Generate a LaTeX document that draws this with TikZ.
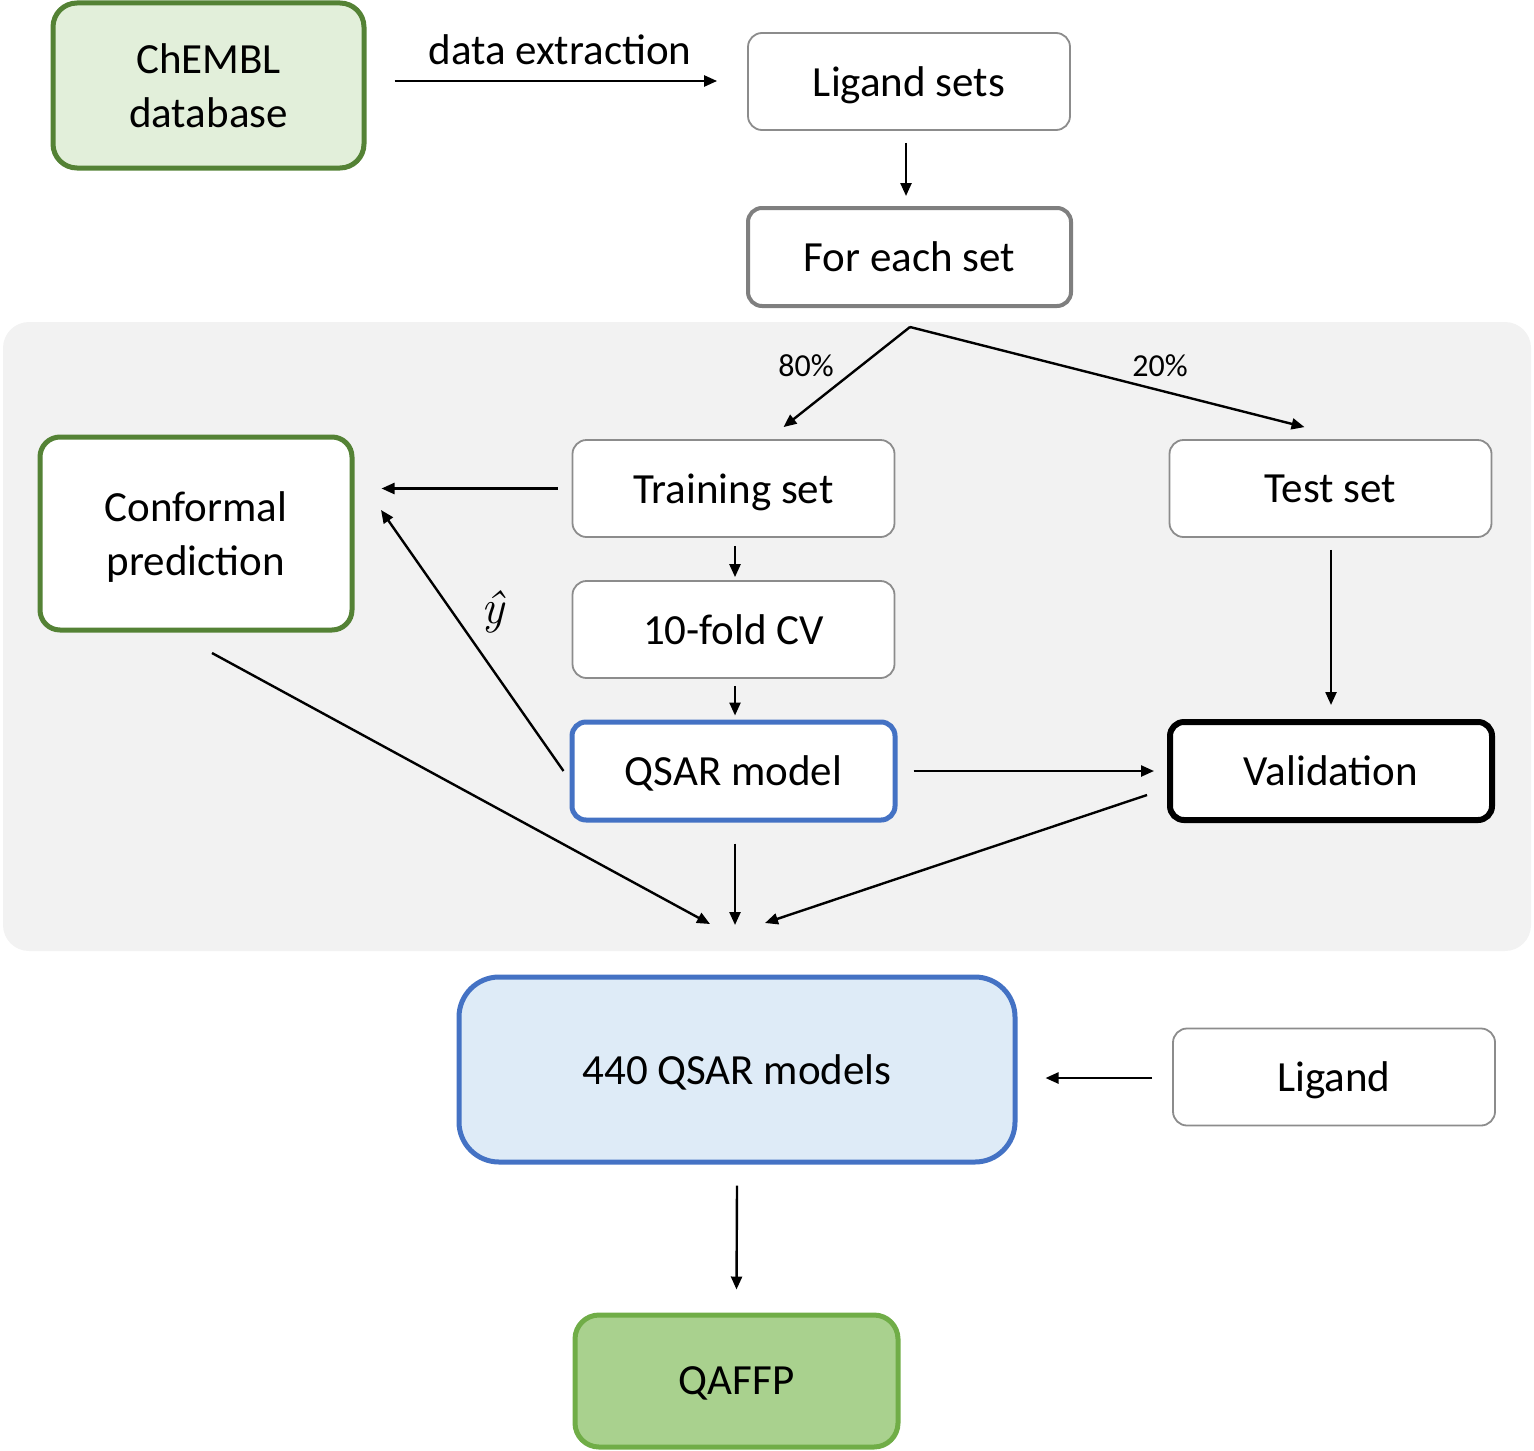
\documentclass[tikz,border=0pt]{standalone}
\usepackage{fontspec}
\setmainfont{Carlito}
\newfontfamily\lmfont{Latin Modern Roman}
\usetikzlibrary{arrows.meta}
\definecolor{dgreen}{HTML}{548235}
\definecolor{lgreen}{HTML}{E2EFDA}
\definecolor{mgreen}{HTML}{70AD47}
\definecolor{qgreen}{HTML}{A9D18E}
\definecolor{mblue}{HTML}{4472C4}
\definecolor{lblue}{HTML}{DEEBF7}
\definecolor{bggray}{HTML}{F2F2F2}
\definecolor{thingray}{HTML}{8C8C8C}
\definecolor{darkgray}{HTML}{7F7F7F}
\begin{document}
\begin{tikzpicture}[x=0.5pt,y=-0.5pt,
  base/.style={rectangle,rounded corners=7pt,align=center,inner sep=0pt,text depth=0pt,
    font=\fontsize{21.5}{27}\selectfont},
  thinbox/.style={base,draw=thingray,line width=0.9pt,fill=white,minimum width=161pt,minimum height=48.5pt},
  arr/.style={line width=1.2pt,-{Triangle[length=6.5pt,width=5.5pt]}},
  lbl/.style={inner sep=0pt,font=\fontsize{21.5}{27}\selectfont},
  pct/.style={font=\fontsize{16}{20}\selectfont,inner sep=0pt}]
\useasboundingbox (0,0) rectangle (1534,1450);
% background panel
\fill[bggray,rounded corners=13pt] (3,322) rectangle (1531,951);

\node[base,draw=dgreen,fill=lgreen,line width=2.5pt,rounded corners=12pt,
  minimum width=155.5pt,minimum height=82.5pt] (chembl) at (208.5,85.5) {ChEMBL\\database};
\node[thinbox] (ligsets) at (909,81.5) {Ligand sets};
\node[base,draw=darkgray,fill=white,line width=2pt,minimum width=161.5pt,minimum height=49pt] (foreach) at (909.5,257) {For each set};
\node[thinbox] (train) at (733.5,488.5) {Training set};
\node[thinbox] (test) at (1330.5,488.5) {Test set};
\node[base,draw=dgreen,fill=white,line width=2.5pt,rounded corners=10pt,
  minimum width=156pt,minimum height=96.5pt] (conf) at (196,533.5) {Conformal\\prediction};
\node[thinbox] (cv) at (733.5,629.5) {10-fold CV};
\node[base,draw=mblue,fill=white,line width=2.5pt,minimum width=161.5pt,minimum height=49pt] (qsar) at (733.5,771) {QSAR model};
\node[base,draw=black,fill=white,line width=3pt,minimum width=161pt,minimum height=49pt] (valid) at (1331,771) {Validation};
\node[base,draw=mblue,fill=lblue,line width=2.5pt,rounded corners=20pt,
  minimum width=278pt,minimum height=92.5pt] (models) at (737,1069.5) {440 QSAR models};
\node[thinbox] (ligand) at (1334,1077) {Ligand};
\node[base,draw=mgreen,fill=qgreen,line width=2.5pt,rounded corners=12pt,
  minimum width=161.5pt,minimum height=66pt] (qaffp) at (736.5,1381) {QAFFP};

% labels
\node[lbl] (dext) at (560,50) {data extraction};
\node[pct] (p80) at (806,366) {80\%};
\node[pct] (p20) at (1160,366) {20\%};
\node[inner sep=0pt,font=\fontsize{24}{28}\selectfont] (yhat) at (493,612) {\lmfont\itshape ŷ};

% coordinates
\coordinate (split) at (910,327);
\coordinate (conv) at (735,925);

% connectors
\draw[arr] ([xshift=14pt]chembl.east |- 0,81) -- ([xshift=-15pt]ligsets.west |- 0,81);
\draw[arr] ([yshift=-6pt]ligsets.south -| 906,0) -- ([yshift=5pt]foreach.north -| 906,0);
\draw[line width=1.2pt] ([yshift=-10pt]foreach.south) -- (split);
\draw[arr] (split) -- ([xshift=25pt,yshift=6pt]train.north);
\draw[arr] (split) -- ([xshift=-13pt,yshift=6pt]test.north);
\draw[arr] ([xshift=-7pt]train.west) -- ([xshift=13.5pt]train.west -| conf.east);
\draw[arr] ([xshift=-3pt]qsar.west) -- (381,510);
\draw[arr] ([yshift=-4pt]train.south -| 735,0) -- ([yshift=1.5pt]cv.north -| 735,0);
\draw[arr] ([yshift=-3.5pt]cv.south -| 735,0) -- ([yshift=2pt]qsar.north -| 735,0);
\draw[arr] ([xshift=8pt]qsar.east) -- ([xshift=-6.5pt]valid.west);
\draw[arr] ([yshift=-6pt]test.south -| 1331,0) -- ([yshift=7pt]valid.north -| 1331,0);
\draw[arr] (212,653) -- ([xshift=-12.5pt,yshift=0.5pt]conv);
\draw[arr] ([yshift=-10.5pt]qsar.south -| 735,0) -- (conv);
\draw[arr] ([xshift=-10pt,yshift=-12pt]valid.west) -- ([xshift=15pt,yshift=1pt]conv);
\draw[arr] ([xshift=-10pt]ligand.west |- 0,1078) -- ([xshift=14pt]models.east |- 0,1078);
\draw[arr] ([yshift=-10.5pt]models.south) -- ([yshift=11.5pt]qaffp.north);
\end{tikzpicture}
\end{document}
